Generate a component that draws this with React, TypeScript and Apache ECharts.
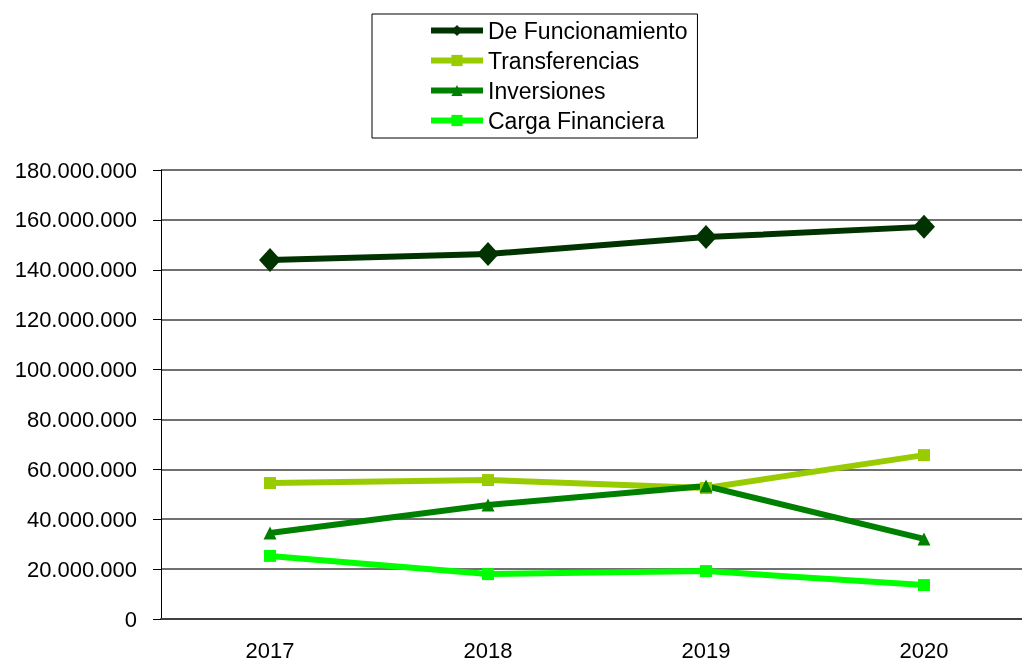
import React, { useEffect, useRef } from "react";
import * as echarts from "echarts";

const categories = ["2017", "2018", "2019", "2020"];
const funcionamiento = [143900000, 146300000, 153100000, 157200000];
const transferencias = [54500000, 55700000, 52500000, 65700000];
const inversiones = [34500000, 45700000, 53300000, 32100000];
const cargaFinanciera = [25300000, 18000000, 19200000, 13600000];
const seriesNames = ["De Funcionamiento", "Transferencias", "Inversiones", "Carga Financiera"];

const FONT = "Liberation Sans";

function fmt(v: number): string {
  return String(Math.round(v)).replace(/\B(?=(\d{3})+(?!\d))/g, ".");
}

export default function App() {
  const ref = useRef<HTMLDivElement>(null);
  useEffect(() => {
    if (!ref.current) return;
    const chart = echarts.init(ref.current, null, { renderer: "svg" });
    const mk = (name: string, data: number[], color: string, symbol: string, size: number | number[]) => ({
      name,
      type: "line",
      data,
      symbol,
      symbolSize: size,
      showAllSymbol: true,
      lineStyle: { color, width: 6 },
      itemStyle: { color },
      z: 3,
    });
    chart.setOption({
      animation: false,
      textStyle: { fontFamily: FONT },
      legend: {
        orient: "vertical",
        left: 372,
        top: 14,
        padding: [5, 10, 6, 56],
        borderColor: "#000",
        borderWidth: 1,
        itemWidth: 52,
        itemHeight: 14,
        itemGap: 7,
        lineStyle: { width: 6 },
        textStyle: { fontFamily: FONT, fontSize: 23, color: "#000", lineHeight: 22 },
        data: seriesNames,
      },
      grid: { left: 161, top: 170, bottom: 42, right: 7 },
      xAxis: {
        type: "category",
        data: categories,
        boundaryGap: true,
        axisLine: { lineStyle: { color: "#404040", width: 2 } },
        axisTick: { length: 8, lineStyle: { color: "#000", width: 1 } },
        axisLabel: { fontFamily: FONT, fontSize: 22, color: "#000", margin: 20 },
      },
      yAxis: {
        type: "value",
        min: 0,
        max: 180000000,
        interval: 20000000,
        axisLine: { show: true, lineStyle: { color: "#000", width: 1 } },
        axisTick: { show: true, length: 8, lineStyle: { color: "#000", width: 1 } },
        axisLabel: { fontFamily: FONT, fontSize: 22, color: "#000", margin: 24, formatter: (v: number) => fmt(v) },
        splitLine: { show: true, lineStyle: { color: "#404040", width: 1.5 } },
      },
      series: [
        mk(seriesNames[0], funcionamiento, "#003300", "diamond", [22, 24]),
        mk(seriesNames[1], transferencias, "#99CC00", "rect", 12),
        mk(seriesNames[2], inversiones, "#008000", "triangle", 13),
        mk(seriesNames[3], cargaFinanciera, "#00FF00", "rect", 12),
      ],
    });
    return () => chart.dispose();
  }, []);
  return (
    <div style={{ position: "fixed", left: 0, top: 0, width: 1022, height: 661, overflow: "hidden" }}>
      <div ref={ref} style={{ width: 1040, height: 661 }} />
    </div>
  );
}
